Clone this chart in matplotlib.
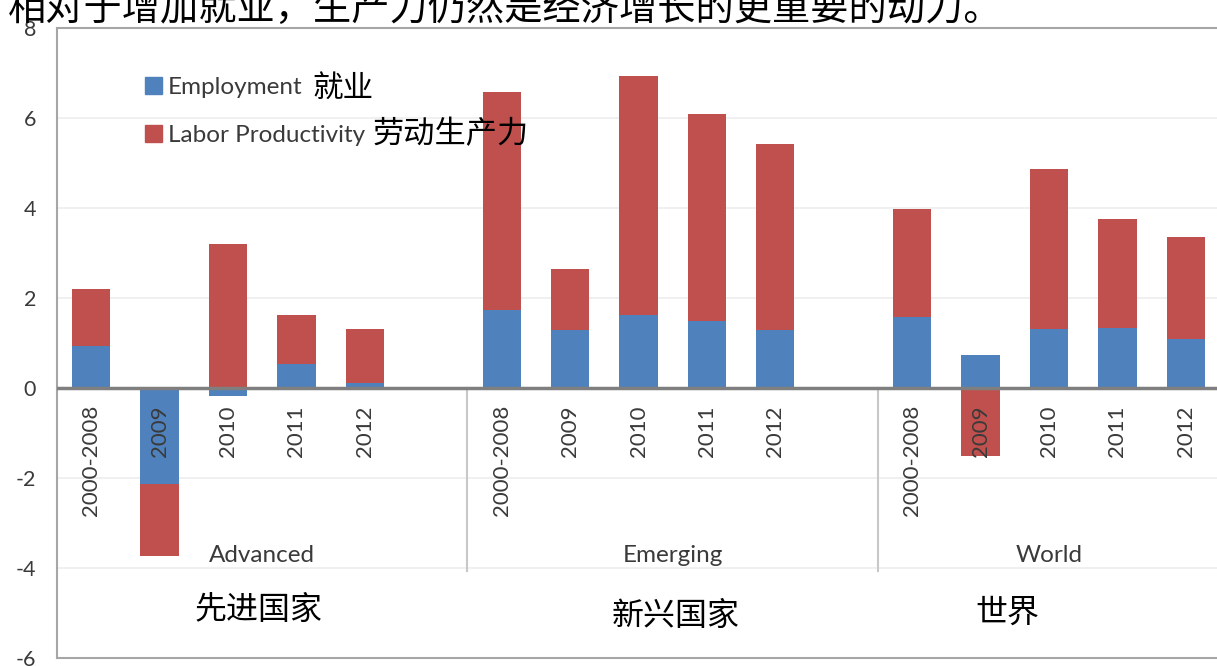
import matplotlib
matplotlib.use("Agg")
import matplotlib.pyplot as plt
from matplotlib.patches import Patch
import numpy as np

# ---- data ----
categories = ["2000-2008", "2009", "2010", "2011", "2012"]
groups = ["Advanced", "Emerging", "World"]
groups_cn = ["先进国家", "新兴国家", "世界"]
employment_advanced = [0.93, -2.13, -0.18, 0.53, 0.11]
employment_emerging = [1.73, 1.29, 1.62, 1.49, 1.29]
employment_world = [1.58, 0.73, 1.31, 1.33, 1.09]
productivity_advanced = [1.27, -1.60, 3.20, 1.09, 1.20]
productivity_emerging = [4.85, 1.35, 5.31, 4.60, 4.13]
productivity_world = [2.40, -1.51, 3.56, 2.43, 2.27]
yticks = [-6, -4, -2, 0, 2, 4, 6, 8]
title = "相对于增加就业，生产力仍然是经济增长的更重要的动力。"
legend_en = ["Employment", "Labor Productivity"]
legend_cn = ["就业", "劳动生产力"]

employment = [employment_advanced, employment_emerging, employment_world]
productivity = [productivity_advanced, productivity_emerging, productivity_world]

BLUE = "#4F81BD"
RED = "#C0504D"
TXT = "#3A3A3A"
CJK = ["Noto Sans CJK SC", "DejaVu Sans"]
EN = ["Lato", "DejaVu Sans"]

fig = plt.figure(figsize=(12.17, 6.66), dpi=100)
ax = fig.add_axes([57 / 1217, 8 / 666, 1163 / 1217, 630 / 666])

width = 0.56
slot = 6
for g in range(len(groups)):
    x = np.arange(len(categories)) + g * slot
    emp = np.array(employment[g])
    prod = np.array(productivity[g])
    bottom = np.where(np.sign(prod) == np.sign(emp), emp, 0.0)
    ax.bar(x, emp, width, color=BLUE, zorder=2)
    ax.bar(x, prod, width, bottom=bottom, color=RED, zorder=2)
    for xi, c in zip(x, categories):
        ax.text(xi, -0.38, c, rotation=90, ha="center", va="top",
                fontsize=16, color=TXT, family=EN, zorder=4)
    ax.text(g * slot + 2.5 if g < 2 else g * slot + 2.0, -3.73, groups[g],
            ha="center", va="center", fontsize=17.5, color=TXT, family=EN)
    if g > 0:
        ax.plot([g * slot - 0.5, g * slot - 0.5], [0, -4.07], color="#C8C8C8",
                lw=1.5, zorder=1)

cn_pos = [(2.44, -4.93), (8.55, -5.06), (13.39, -5.0)]
for (cx, cy), t in zip(cn_pos, groups_cn):
    ax.text(cx, cy, t, ha="center", va="center", fontsize=23, color="black",
            family=CJK)

ax.set_xlim(-0.5, 16.5)
ax.set_ylim(-6, 8)
ax.set_yticks(yticks)
ax.set_yticklabels([str(v) for v in yticks], fontsize=15.5, color=TXT, family=EN)
ax.set_xticks([])
ax.tick_params(axis="y", length=0, pad=15)
ax.yaxis.grid(True, color="#EDEDED", lw=1.2, zorder=0)
ax.set_axisbelow(True)
ax.axhline(0, color="#7F7F7F", lw=2.5, zorder=3)
for s in ["top", "bottom", "left"]:
    ax.spines[s].set_color("#A6A6A6")
    ax.spines[s].set_linewidth(1.5)
ax.spines["right"].set_visible(False)

handles = [Patch(color=BLUE), Patch(color=RED)]
leg = ax.legend(handles, legend_en, loc="upper left",
                bbox_to_anchor=((145 - 57) / 1163, (658 - 77) / 630),
                frameon=False, borderpad=0, borderaxespad=0,
                handlelength=0.7, handleheight=0.7, handletextpad=0.25,
                labelspacing=1.1, prop={"family": "Lato", "size": 17.5})
for t in leg.get_texts():
    t.set_color(TXT)

fig.text(312 / 1217, 1 - 88 / 666, legend_cn[0], ha="left", va="center",
         fontsize=22, family=CJK)
fig.text(372 / 1217, 1 - 134 / 666, legend_cn[1], ha="left", va="center",
         fontsize=22.5, family=CJK)

fig.text(8 / 1217, 1 - 9 / 666, title, ha="left", va="center", fontsize=27.5,
         family=CJK, color="black")

fig.savefig("out.png", dpi=100)
